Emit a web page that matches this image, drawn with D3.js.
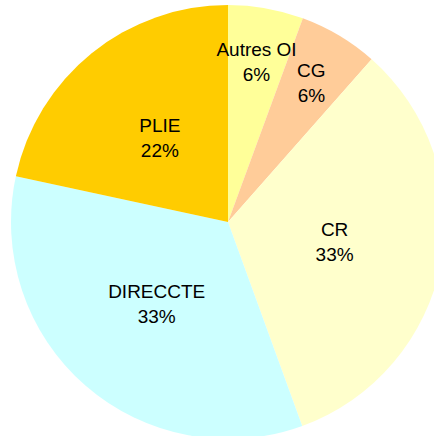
<!DOCTYPE html>
<html>
<head>
<meta charset="utf-8">
<script src="https://cdn.jsdelivr.net/npm/d3@7"></script>
<style>
    body { margin: 0; background: #fff; overflow: hidden; }
    svg { display: block; }
    .slice-label { font-family: "Liberation Sans", Arial, sans-serif; font-size: 19px; fill: #000; }
</style>
</head>
<body>
<div id="chart"></div>
<script>
// chart data (clockwise from 12 o'clock)
var categories = ["Autres OI", "CG", "CR", "DIRECCTE", "PLIE"];
var values = [5.6, 5.9, 32.9, 33.9, 21.6];
var pctLabels = ["6%", "6%", "33%", "33%", "22%"];
var colors = ["#FFFF99", "#FFCC99", "#FFFFCC", "#CCFFFF", "#FFCC00"];

var width = 434, height = 436;
var cx = 228, cy = 222, radius = 217;

var svg = d3.select("#chart").append("svg")
    .attr("width", width)
    .attr("height", height);

var g = svg.append("g")
    .attr("transform", "translate(" + cx + "," + cy + ")");

var data = categories.map(function (c, i) {
    return { name: c, value: values[i], label: pctLabels[i], color: colors[i] };
});

var pie = d3.pie()
    .sort(null)
    .value(function (d) { return d.value; });

var arc = d3.arc()
    .innerRadius(0)
    .outerRadius(radius);

var arcs = pie(data);

g.selectAll("path")
    .data(arcs)
    .enter()
    .append("path")
    .attr("d", arc)
    .attr("fill", function (d) { return d.data.color; });

// small slices get their label pushed out towards the rim
function labelPos(d) {
    var r = d.data.value < 10 ? radius * 0.75 : radius * 0.5;
    return d3.arc().innerRadius(r).outerRadius(r).centroid(d);
}

var labels = g.selectAll("text")
    .data(arcs)
    .enter()
    .append("text")
    .attr("class", "slice-label")
    .attr("text-anchor", "middle")
    .attr("transform", function (d) {
        var p = labelPos(d);
        return "translate(" + p[0] + "," + p[1] + ")";
    });

labels.append("tspan")
    .attr("x", 0)
    .attr("dy", "-0.3em")
    .text(function (d) { return d.data.name; });

labels.append("tspan")
    .attr("x", 0)
    .attr("dy", 25)
    .text(function (d) { return d.data.label; });
</script>
</body>
</html>
